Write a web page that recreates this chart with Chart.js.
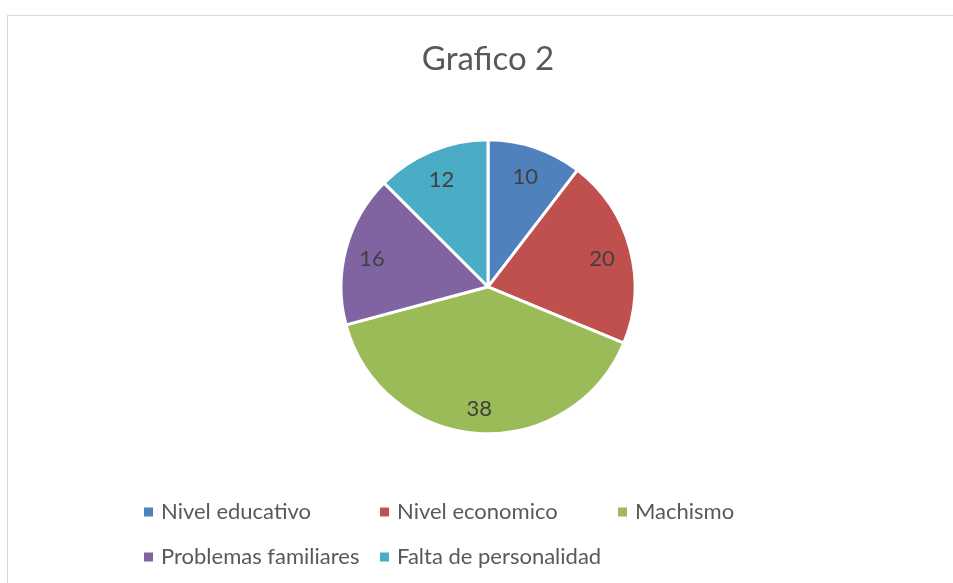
<!DOCTYPE html>
<html>
<head>
<meta charset="utf-8">
<style>
  html, body { margin: 0; padding: 0; background: #ffffff; }
  #wrap { width: 953px; height: 583px; position: relative; }
</style>
<script src="https://cdn.jsdelivr.net/npm/chart.js@4"></script>
</head>
<body>
<div id="wrap"><canvas id="c" width="953" height="583"></canvas></div>
<script>
const chartTitle = "Grafico 2";
const categories = ["Nivel educativo", "Nivel economico", "Machismo", "Problemas familiares", "Falta de personalidad"];
const values = [10, 20, 38, 16, 12];
const colors = ["#4F81BD", "#C0504D", "#9BBB59", "#8064A2", "#4BACC6"];

const FONT = "Lato, 'Liberation Sans', sans-serif";

const frame = {
  id: "frame",
  beforeDraw(chart) {
    const ctx = chart.ctx;
    ctx.save();
    ctx.fillStyle = "#ffffff";
    ctx.fillRect(0, 0, chart.width, chart.height);
    ctx.strokeStyle = "#D9D9D9";
    ctx.lineWidth = 1;
    ctx.strokeRect(7.5, 15.5, 1000, 1000);
    ctx.restore();
  }
};

const sliceLabels = {
  id: "sliceLabels",
  afterDatasetsDraw(chart) {
    const ctx = chart.ctx;
    const meta = chart.getDatasetMeta(0);
    ctx.save();
    ctx.font = "22px " + FONT;
    ctx.fillStyle = "#404040";
    ctx.textAlign = "center";
    ctx.textBaseline = "middle";
    meta.data.forEach((arc, i) => {
      const mid = (arc.startAngle + arc.endAngle) / 2;
      const r = arc.outerRadius * 0.81;
      ctx.fillText(String(values[i]), arc.x + Math.cos(mid) * r - 1, arc.y + Math.sin(mid) * r + 3);
    });
    ctx.restore();
  }
};

const gridLegend = {
  id: "gridLegend",
  afterDraw(chart) {
    const ctx = chart.ctx;
    const cols = [144, 380, 618];
    const rows = [512, 557];
    const perRow = 3;
    ctx.save();
    ctx.font = "22px " + FONT;
    ctx.textBaseline = "middle";
    ctx.textAlign = "left";
    categories.forEach((label, i) => {
      const x = cols[i % perRow];
      const y = rows[Math.floor(i / perRow)];
      ctx.fillStyle = colors[i];
      ctx.fillRect(x, y - 4.5, 9, 9);
      ctx.fillStyle = "#595959";
      ctx.fillText(label, x + 17, y);
    });
    ctx.restore();
  }
};

new Chart(document.getElementById("c"), {
  type: "pie",
  data: {
    labels: categories,
    datasets: [{
      data: values,
      backgroundColor: colors,
      borderColor: "#ffffff",
      borderWidth: 3,
      radius: 147
    }]
  },
  options: {
    responsive: false,
    animation: false,
    layout: { padding: { left: 23, right: 0, top: 0, bottom: 97 } },
    plugins: {
      legend: { display: false },
      tooltip: { enabled: false },
      title: {
        display: true,
        text: chartTitle,
        color: "#595959",
        font: { family: FONT, size: 33, weight: "normal" },
        padding: { top: 40, bottom: 8 }
      }
    }
  },
  plugins: [frame, sliceLabels, gridLegend]
});
</script>
</body>
</html>
